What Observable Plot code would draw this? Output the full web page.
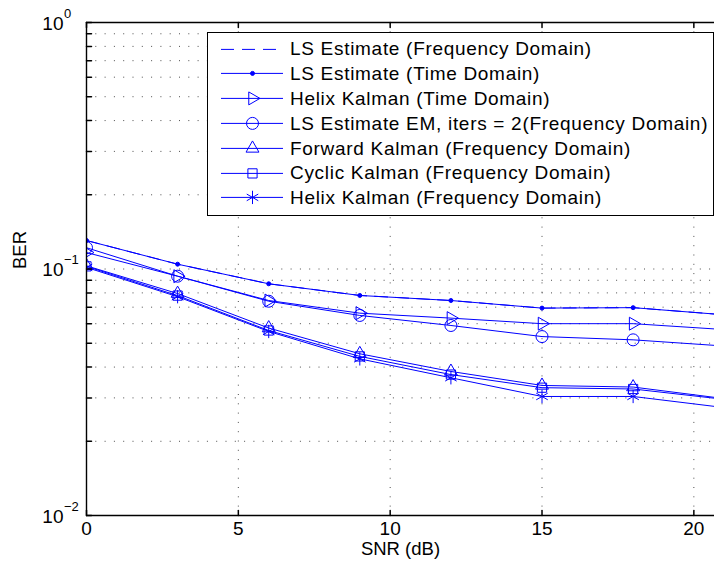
<!DOCTYPE html>
<html><head><meta charset="utf-8">
<script src="https://cdn.jsdelivr.net/npm/d3@7"></script>
<script src="https://cdn.jsdelivr.net/npm/@observablehq/plot@0.6"></script>
<style>
body{margin:0;background:#fff;font-family:"Liberation Sans",Arial,Helvetica,sans-serif}
#wrap{position:relative;width:714px;height:567px;overflow:hidden;background:#fff}
#legend{position:absolute;left:207px;top:32px;width:507px;height:184px;box-sizing:border-box;border:1px solid #000;background:#fff;padding-top:3.6px}
.row{display:flex;align-items:center;height:24.8px}
.row svg{flex:none}
.row span{font-size:19px;letter-spacing:0.7px;margin-left:7px;white-space:nowrap;color:#000;line-height:1}
</style></head>
<body><div id="wrap"></div>
<script>
// ---- data ----
const snr = [0, 3, 6, 9, 12, 15, 18, 21];
const seriesNames = [
  "LS Estimate (Frequency Domain)",
  "LS Estimate (Time Domain)",
  "Helix Kalman (Time Domain)",
  "LS Estimate EM, iters = 2(Frequency Domain)",
  "Forward Kalman (Frequency Domain)",
  "Cyclic Kalman (Frequency Domain)",
  "Helix Kalman (Frequency Domain)"
];
const lsFreq    = [0.1305, 0.1046, 0.0871, 0.0781, 0.0745, 0.0694, 0.0697, 0.0652];
const lsTime    = [0.1305, 0.1046, 0.0871, 0.0781, 0.0745, 0.0694, 0.0697, 0.0652];
const helixTime = [0.1166, 0.0935, 0.0745, 0.0662, 0.0632, 0.0600, 0.0600, 0.0568];
const lsEM      = [0.1220, 0.0935, 0.0740, 0.0648, 0.0590, 0.0532, 0.0516, 0.0487];
const forwardK  = [0.1030, 0.0795, 0.0576, 0.0453, 0.0384, 0.0337, 0.0332, 0.0298];
const cyclicK   = [0.1025, 0.0780, 0.0563, 0.0442, 0.0373, 0.0330, 0.0326, 0.0296];
const helixFreq = [0.1015, 0.0772, 0.0558, 0.0432, 0.0362, 0.0304, 0.0304, 0.0274];
const xTicks = [0, 5, 10, 15, 20];
const yTicks = [0.01, 0.1, 1];
const yExponents = ["\u22122", "\u22121", "0"];
const yMinor = [0.01,0.02,0.03,0.04,0.05,0.06,0.07,0.08,0.09,0.1,0.2,0.3,0.4,0.5,0.6,0.7,0.8,0.9,1];

// ---- styling ----
const blue = "#0000ff";
const sqrt3 = Math.sqrt(3);
const triangleRight = {
  draw(ctx, size) {
    const y = -Math.sqrt(size / (sqrt3 * 3));
    ctx.moveTo(-y * 2, 0);
    ctx.lineTo(y, -sqrt3 * y);
    ctx.lineTo(y, sqrt3 * y);
    ctx.closePath();
  }
};
const valuesList = [lsFreq, lsTime, helixTime, lsEM, forwardK, cyclicK, helixFreq];
const styles = [
  {dash: "13,8", symbol: null},
  {dash: null, symbol: "circle", r: 2, fill: blue},
  {dash: null, symbol: triangleRight, r: 4.8},
  {dash: null, symbol: "circle", r: 6},
  {dash: null, symbol: "triangle", r: 4.8},
  {dash: null, symbol: "square", r: 5.2},
  {dash: null, symbol: "asterisk", r: 6.3}
];
const series = seriesNames.map((name, k) => ({
  name, ...styles[k],
  rows: snr.map((x, i) => ({snr: x, ber: valuesList[k][i], name}))
}));

const tickShape = {draw(ctx, l) { ctx.moveTo(0, 0); ctx.lineTo(0, -l); }};
const font = '"Liberation Sans", Arial, Helvetica, sans-serif';

const marks = [
  Plot.gridY(yMinor, {stroke: "#000", strokeOpacity: 0.7, strokeDasharray: "1,8.3"}),
  Plot.gridX(xTicks.slice(1), {stroke: "#000", strokeOpacity: 0.7, strokeDasharray: "1,8.3"})
];
for (const s of series) {
  marks.push(Plot.line(s.rows, {x: "snr", y: "ber", stroke: blue, strokeWidth: 1, strokeDasharray: s.dash || undefined, clip: true}));
}
for (const s of series) {
  if (!s.symbol) continue;
  marks.push(Plot.dot(s.rows, {x: "snr", y: "ber", symbol: s.symbol, r: s.r, stroke: blue, strokeWidth: 1, fill: s.fill || "none", clip: true}));
}
marks.push(
  Plot.ruleX([0], {stroke: "#000", strokeWidth: 1.4}),
  Plot.ruleY([0.01, 1], {stroke: "#000", strokeWidth: 1.4}),
  Plot.vector(yMinor, {y: d => d, frameAnchor: "left", length: 5, rotate: 90, anchor: "start", shape: tickShape, stroke: "#000"}),
  Plot.vector(xTicks, {x: d => d, frameAnchor: "bottom", length: 5, rotate: 0, anchor: "start", shape: tickShape, stroke: "#000"}),
  Plot.vector(xTicks, {x: d => d, frameAnchor: "top", length: 5, rotate: 180, anchor: "start", shape: tickShape, stroke: "#000"}),
  Plot.text(xTicks, {x: d => d, frameAnchor: "bottom", dy: 19, text: d => String(d), fontSize: 19, fill: "#000"}),
  Plot.text(yTicks, {y: d => d, frameAnchor: "left", dx: -23, dy: 1, textAnchor: "end", text: () => "10", fontSize: 19, fill: "#000"}),
  Plot.text(yTicks, {y: d => d, frameAnchor: "left", dx: -22.5, dy: -9, textAnchor: "start", text: (d, i) => yExponents[i], fontSize: 13, fill: "#000"}),
  Plot.text(["SNR (dB)"], {frameAnchor: "bottom", dy: 39, text: d => d, fontSize: 18.5, fill: "#000"}),
  Plot.text(["BER"], {frameAnchor: "left", dx: -66, rotate: -90, text: d => d, fontSize: 18.5, fill: "#000"})
);

const chart = Plot.plot({
  width: 714, height: 567,
  marginLeft: 86, marginRight: 0, marginTop: 22, marginBottom: 52,
  style: {fontFamily: font, background: "white"},
  x: {domain: [0, 20.68], axis: null},
  y: {type: "log", domain: [0.01, 1], axis: null},
  marks
});
const wrap = document.getElementById("wrap");
wrap.appendChild(chart);

// ---- legend ----
const legend = document.createElement("div");
legend.id = "legend";
for (const s of series) {
  const row = document.createElement("div");
  row.className = "row";
  const svg = d3.create("svg").attr("width", 75).attr("height", 24.8);
  svg.append("line").attr("x1", 13).attr("x2", 75).attr("y1", 12.4).attr("y2", 12.4)
    .attr("stroke", blue).attr("stroke-width", 1).attr("stroke-dasharray", s.dash);
  if (s.symbol) {
    const type = typeof s.symbol === "string"
      ? {circle: d3.symbolCircle, triangle: d3.symbolTriangle, square: d3.symbolSquare, asterisk: d3.symbolAsterisk}[s.symbol]
      : s.symbol;
    svg.append("path").attr("transform", "translate(44.5,12.4)")
      .attr("d", d3.symbol(type, Math.PI * s.r * s.r)())
      .attr("fill", s.fill || "none").attr("stroke", blue).attr("stroke-width", 1);
  }
  row.appendChild(svg.node());
  const span = document.createElement("span");
  span.textContent = s.name;
  row.appendChild(span);
  legend.appendChild(row);
}
wrap.appendChild(legend);
</script>
</body></html>
